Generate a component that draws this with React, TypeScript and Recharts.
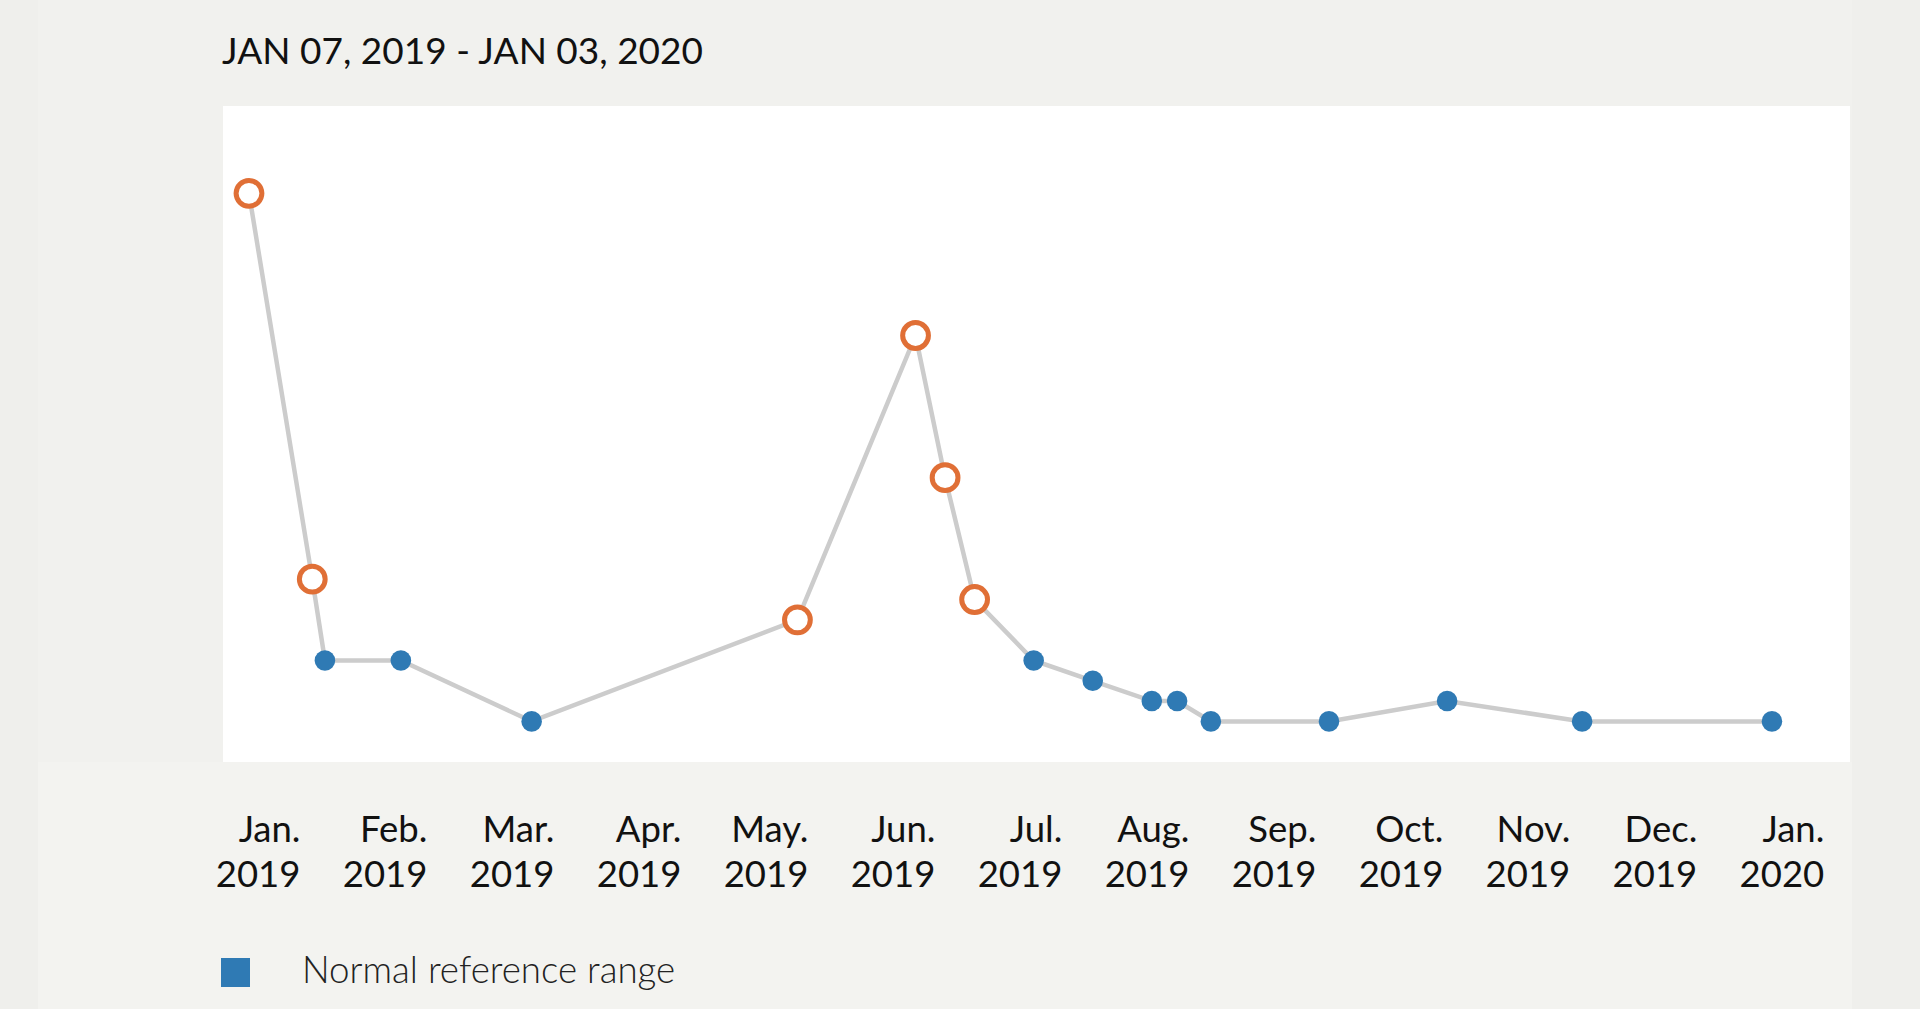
import React from "react";
import { LineChart, Line, XAxis, YAxis, CartesianGrid } from "recharts";

// ---- data ----
const dates = [
  "2019-01-07", "2019-01-22", "2019-01-25", "2019-02-12", "2019-03-15",
  "2019-05-17", "2019-06-14", "2019-06-21", "2019-06-28", "2019-07-12",
  "2019-07-26", "2019-08-09", "2019-08-15", "2019-08-23", "2019-09-20",
  "2019-10-18", "2019-11-19", "2020-01-03",
];
const values = [28, 9, 5, 5, 2, 7, 21, 14, 8, 5, 4, 3, 3, 2, 2, 3, 2, 2];
const flags = [
  "high", "high", "normal", "normal", "normal",
  "high", "high", "high", "high", "normal",
  "normal", "normal", "normal", "normal", "normal",
  "normal", "normal", "normal",
];
const monthLabels = ["Jan.", "Feb.", "Mar.", "Apr.", "May.", "Jun.", "Jul.", "Aug.", "Sep.", "Oct.", "Nov.", "Dec.", "Jan."];
const yearLabels = ["2019", "2019", "2019", "2019", "2019", "2019", "2019", "2019", "2019", "2019", "2019", "2019", "2020"];
// label anchor positions (days since Jan 1, 2019) – labels are evenly spaced in the original
const labelTickDays = [18.2, 48.3, 78.4, 108.5, 138.6, 168.7, 198.8, 228.9, 259.0, 289.1, 319.2, 349.3, 379.4];
const title = "JAN 07, 2019 - JAN 03, 2020";
const legendLabel = "Normal reference range";

const ORIGIN = Date.UTC(2019, 0, 1);
const dayOf = (s: string) => (Date.parse(s + "T00:00:00Z") - ORIGIN) / 86400000;

const data = dates.map((d, i) => ({ day: dayOf(d), value: values[i], flag: flags[i] }));

const BLUE = "#2f7ab4";
const ORANGE = "#e06f36";
const LINE = "#cccccc";
const FONT = "Lato, 'Open Sans', sans-serif";

const Dot = (props: any) => {
  const { cx, cy, payload, index } = props;
  if (cx == null || cy == null) return null;
  if (payload.flag === "high") {
    return <circle key={`d${index}`} cx={cx} cy={cy} r={12.9} fill="#ffffff" stroke={ORANGE} strokeWidth={5} />;
  }
  return <circle key={`d${index}`} cx={cx} cy={cy} r={10.3} fill={BLUE} stroke="none" />;
};

const MonthTick = (props: any) => {
  const { x, y, index } = props;
  return (
    <text x={x} y={y} textAnchor="end" fontFamily={FONT} fontSize={36.5} fill="#111111">
      <tspan x={x} dy={80}>{monthLabels[index]}</tspan>
      <tspan x={x} dy={45}>{yearLabels[index]}</tspan>
    </text>
  );
};

export default function App() {
  return (
    <div style={{ position: "absolute", left: 0, top: 0, width: 1920, height: 1009, background: "#efefec", overflow: "hidden" }}>
      <div style={{ position: "absolute", left: 38, top: 0, width: 1814, height: 762, background: "#f1f1ee" }} />
      <div style={{ position: "absolute", left: 38, top: 762, width: 1814, height: 247, background: "#f3f3f0" }} />
      <div style={{ position: "absolute", left: 0, top: 0 }}>
        <LineChart
          width={1920}
          height={1009}
          data={data}
          margin={{ top: 106, right: 70, bottom: 147, left: 223 }}
        >
          <CartesianGrid horizontal={false} vertical={false} fill="#ffffff" stroke="none" />
          <XAxis
            dataKey="day"
            type="number"
            domain={[-0.16, 385.5]}
            allowDataOverflow
            ticks={labelTickDays}
            interval={0}
            axisLine={false}
            tickLine={false}
            tickSize={0}
            tickMargin={0}
            height={100}
            tick={<MonthTick />}
          />
          <YAxis type="number" domain={[0, 32.3]} allowDataOverflow hide />
          <Line
            type="linear"
            dataKey="value"
            stroke={LINE}
            strokeWidth={4.5}
            dot={<Dot />}
            activeDot={false}
            isAnimationActive={false}
          />
        </LineChart>
      </div>
      <svg style={{ position: "absolute", left: 0, top: 0 }} width={1920} height={1009}>
        <text x={222} y={63.5} fontFamily={FONT} fontSize={37} fill="#111111">{title}</text>
        <rect x={221} y={958} width={29} height={29} fill={BLUE} />
        <text x={302} y={983} fontFamily={FONT} fontSize={36.7} fontWeight={300} fill="#222222">{legendLabel}</text>
      </svg>
    </div>
  );
}
